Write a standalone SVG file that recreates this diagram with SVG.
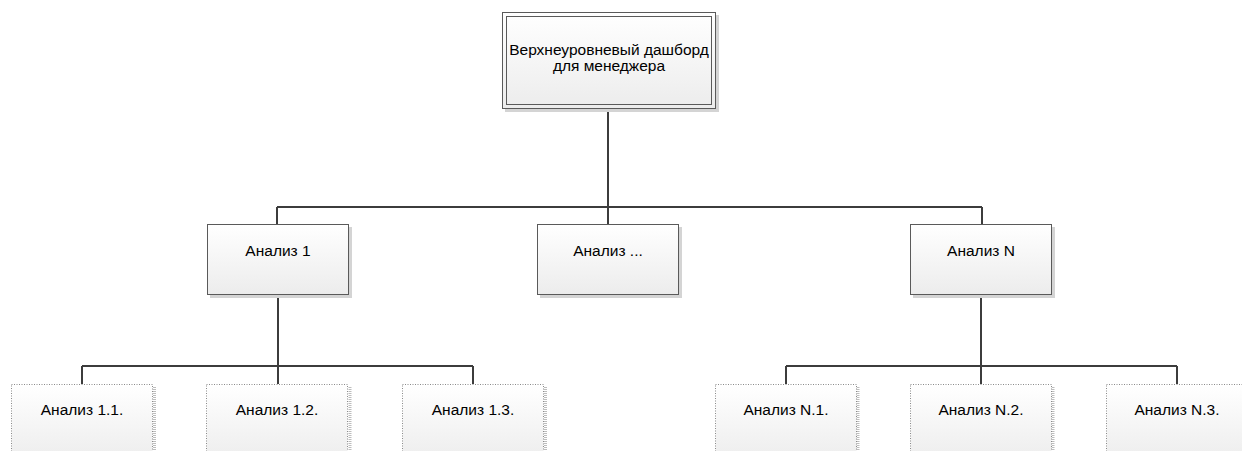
<svg xmlns="http://www.w3.org/2000/svg" width="1242" height="451" viewBox="0 0 1242 451">
<defs>
<linearGradient id="g" x1="0" y1="0" x2="0" y2="1">
<stop offset="0" stop-color="#ffffff"/>
<stop offset="1" stop-color="#ececec"/>
</linearGradient>
</defs>
<style>
.t{font-family:"Liberation Sans",Arial,sans-serif;font-size:15.5px;fill:#000;text-anchor:middle}
.box{fill:url(#g);stroke:#5a5a5a;stroke-width:1}
.sh{fill:#d4d4d4}
.dbox{fill:url(#g);stroke:#8a8a8a;stroke-width:1;stroke-dasharray:1 1.5}
.dsh{fill:none;stroke:#bdbdbd;stroke-width:3;stroke-dasharray:1 1}
.c{fill:none;stroke:#3c3c3c;stroke-width:2}
</style>
<rect width="1242" height="451" fill="#fff"/>
<g id="connectors">
<path class="c" d="M608 109V207M277 207H982M277 207V224M608 207V224M982 207V224"/>
<path class="c" d="M278 295V366M82 366H473M82 366V384M278 366V384M473 366V384"/>
<path class="c" d="M981 295V366M786 366H1177M786 366V384M981 366V384M1177 366V384"/>
</g>
<g id="top">
<rect x="505" y="15" width="214" height="97" class="sh"/>
<rect x="502.5" y="12.5" width="213" height="96" fill="url(#g)" stroke="#5a5a5a"/>
<rect x="506.5" y="16.5" width="205" height="88" fill="none" stroke="#5a5a5a"/>
<text class="t" x="609" y="55">Верхнеуровневый дашборд</text>
<text class="t" x="609" y="71">для менеджера</text>
</g>
<g id="a1">
<rect x="210" y="227" width="142" height="71" class="sh"/>
<rect x="207.5" y="224.5" width="141" height="70" class="box"/>
<text class="t" x="278" y="256">Анализ 1</text>
</g>
<g id="a2">
<rect x="540" y="227" width="142" height="71" class="sh"/>
<rect x="537.5" y="224.5" width="141" height="70" class="box"/>
<text class="t" x="608" y="256">Анализ ...</text>
</g>
<g id="aN">
<rect x="913" y="227" width="142" height="71" class="sh"/>
<rect x="910.5" y="224.5" width="141" height="70" class="box"/>
<text class="t" x="981" y="256">Анализ N</text>
</g>
<g id="a11">
<path class="dsh" d="M154.5 387V451"/>
<rect x="11.5" y="384.5" width="141" height="80" class="dbox"/>
<text class="t" x="82" y="415">Анализ 1.1.</text>
</g>
<g id="a12">
<path class="dsh" d="M350 387V451"/>
<rect x="206.5" y="384.5" width="141" height="80" class="dbox"/>
<text class="t" x="277" y="415">Анализ 1.2.</text>
</g>
<g id="a13">
<path class="dsh" d="M545.5 387V451"/>
<rect x="402.5" y="384.5" width="141" height="80" class="dbox"/>
<text class="t" x="473" y="415">Анализ 1.3.</text>
</g>
<g id="aN1">
<path class="dsh" d="M858 387V451"/>
<rect x="715.5" y="384.5" width="141" height="80" class="dbox"/>
<text class="t" x="786" y="415">Анализ N.1.</text>
</g>
<g id="aN2">
<path class="dsh" d="M1053 387V451"/>
<rect x="910.5" y="384.5" width="141" height="80" class="dbox"/>
<text class="t" x="981" y="415">Анализ N.2.</text>
</g>
<g id="aN3">
<path class="dsh" d="M1249 387V451"/>
<rect x="1106.5" y="384.5" width="141" height="80" class="dbox"/>
<text class="t" x="1177" y="415">Анализ N.3.</text>
</g>
</svg>
